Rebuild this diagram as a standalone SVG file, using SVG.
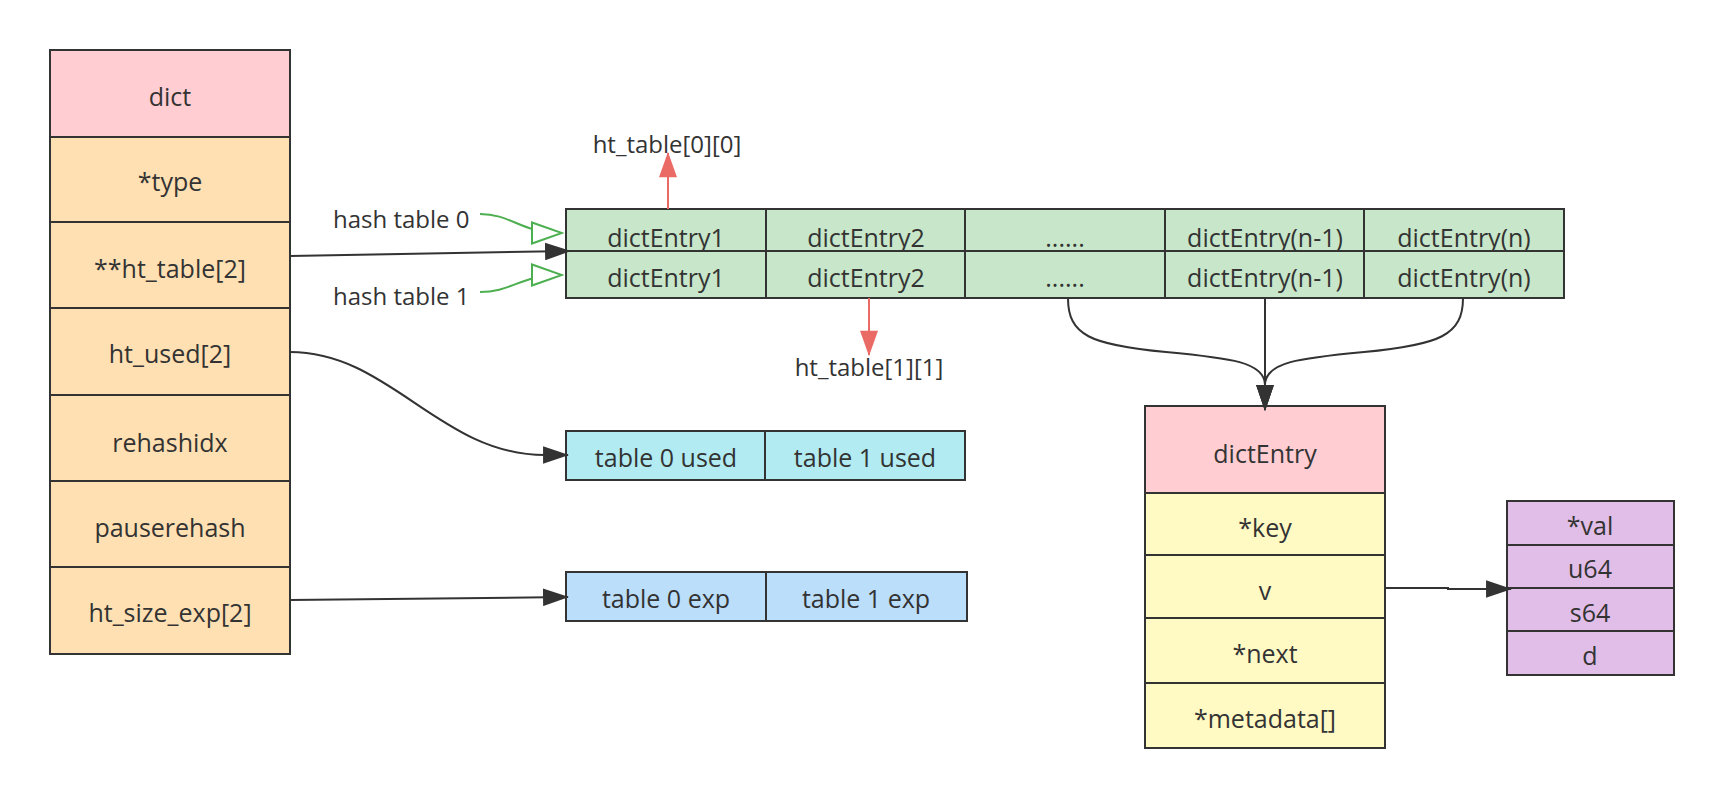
<svg xmlns="http://www.w3.org/2000/svg" width="1725" height="798" viewBox="0 0 1725 798">
<style>
  text { font-family: "Open Sans", "Noto Sans", sans-serif; font-size: 25px; fill: #333; text-anchor: middle; }
  .lbl { font-size: 24px; }
  .box { stroke: #333; stroke-width: 2; }
  .pink { fill: #ffcdd2; }
  .peach { fill: #ffe0b2; }
  .green { fill: #c8e6c9; }
  .cyan { fill: #b2ebf2; }
  .blue { fill: #bbdefb; }
  .yellow { fill: #fff9c4; }
  .purple { fill: #e1bee7; }
  .conn { fill: none; stroke: #333; stroke-width: 2; }
  .red { fill: none; stroke: #ea6b66; stroke-width: 2; }
  .grn { fill: none; stroke: #4caf50; stroke-width: 2; }
</style>
<defs>
  <marker id="ab" markerUnits="userSpaceOnUse" markerWidth="26" markerHeight="18" viewBox="0 0 25 17" refX="24" refY="8.5" orient="auto">
    <path d="M0,0 L25,8.5 L0,17 z" fill="#333"/>
  </marker>
  <marker id="ar" markerUnits="userSpaceOnUse" markerWidth="26" markerHeight="18" viewBox="0 0 24 17" refX="23" refY="8.5" orient="auto">
    <path d="M0,0 L24,8.5 L0,17 z" fill="#ea6b66"/>
  </marker>
  <marker id="ag" markerUnits="userSpaceOnUse" markerWidth="34" markerHeight="26" viewBox="-2 -2 34 25" refX="30" refY="10.5" orient="auto">
    <path d="M0,0 L30,10.5 L0,21 z" fill="#fff" stroke="#4caf50" stroke-width="2"/>
  </marker>
</defs>
<rect width="1725" height="798" fill="#fff"/>

<g id="dict">
  <rect class="box pink" x="50" y="50" width="240" height="87"/>
  <rect class="box peach" x="50" y="137" width="240" height="85"/>
  <rect class="box peach" x="50" y="222" width="240" height="86"/>
  <rect class="box peach" x="50" y="308" width="240" height="87"/>
  <rect class="box peach" x="50" y="395" width="240" height="86"/>
  <rect class="box peach" x="50" y="481" width="240" height="86"/>
  <rect class="box peach" x="50" y="567" width="240" height="87"/>
  <text x="170" y="106">dict</text>
  <text x="170" y="191">*type</text>
  <text x="170" y="278">**ht_table[2]</text>
  <text x="170" y="363">ht_used[2]</text>
  <text x="170" y="452">rehashidx</text>
  <text x="170" y="537">pauserehash</text>
  <text x="170" y="622">ht_size_exp[2]</text>
</g>

<g id="ht_table">
  <rect class="box green" x="566" y="209" width="200" height="42"/>
  <rect class="box green" x="766" y="209" width="199" height="42"/>
  <rect class="box green" x="965" y="209" width="200" height="42"/>
  <rect class="box green" x="1165" y="209" width="199" height="42"/>
  <rect class="box green" x="1364" y="209" width="200" height="42"/>
  <text x="666" y="247">dictEntry1</text>
  <text x="866" y="247">dictEntry2</text>
  <text x="1065" y="247">......</text>
  <text x="1265" y="247">dictEntry(n-1)</text>
  <text x="1464" y="247">dictEntry(n)</text>
  <rect class="box green" x="566" y="251" width="200" height="47"/>
  <rect class="box green" x="766" y="251" width="199" height="47"/>
  <rect class="box green" x="965" y="251" width="200" height="47"/>
  <rect class="box green" x="1165" y="251" width="199" height="47"/>
  <rect class="box green" x="1364" y="251" width="200" height="47"/>
  <text x="666" y="287">dictEntry1</text>
  <text x="866" y="287">dictEntry2</text>
  <text x="1065" y="287">......</text>
  <text x="1265" y="287">dictEntry(n-1)</text>
  <text x="1464" y="287">dictEntry(n)</text>
</g>

<g id="labels">
  <text class="lbl" x="333" y="228" style="text-anchor:start">hash table 0</text>
  <text class="lbl" x="333" y="305" style="text-anchor:start">hash table 1</text>
  <text class="lbl" x="667" y="153">ht_table[0][0]</text>
  <text class="lbl" x="869" y="376">ht_table[1][1]</text>
</g>

<g id="ht_used">
  <rect class="box cyan" x="566" y="431" width="199" height="49"/>
  <rect class="box cyan" x="765" y="431" width="200" height="49"/>
  <text x="666" y="467">table 0 used</text>
  <text x="865" y="467">table 1 used</text>
</g>

<g id="ht_size_exp">
  <rect class="box blue" x="566" y="572" width="200" height="49"/>
  <rect class="box blue" x="766" y="572" width="201" height="49"/>
  <text x="666" y="608">table 0 exp</text>
  <text x="866" y="608">table 1 exp</text>
</g>

<g id="dictEntry">
  <rect class="box pink" x="1145" y="406" width="240" height="87"/>
  <rect class="box yellow" x="1145" y="493" width="240" height="62"/>
  <rect class="box yellow" x="1145" y="555" width="240" height="63"/>
  <rect class="box yellow" x="1145" y="618" width="240" height="65"/>
  <rect class="box yellow" x="1145" y="683" width="240" height="65"/>
  <text x="1265" y="463">dictEntry</text>
  <text x="1265" y="537">*key</text>
  <text x="1265" y="600">v</text>
  <text x="1265" y="663">*next</text>
  <text x="1265" y="728">*metadata[]</text>
</g>

<g id="v_union">
  <rect class="box purple" x="1507" y="501" width="167" height="44"/>
  <rect class="box purple" x="1507" y="545" width="167" height="43"/>
  <rect class="box purple" x="1507" y="588" width="167" height="43"/>
  <rect class="box purple" x="1507" y="631" width="167" height="44"/>
  <text x="1590" y="535">*val</text>
  <text x="1590" y="578">u64</text>
  <text x="1590" y="622">s64</text>
  <text x="1590" y="665">d</text>
</g>

<g id="connectors">
  <path class="conn" d="M290,256 L570,251" marker-end="url(#ab)"/>
  <path class="grn" d="M480,214 C512,214 520,233 562,233" marker-end="url(#ag)"/>
  <path class="grn" d="M480,292 C512,292 520,275 562,275" marker-end="url(#ag)"/>
  <path class="red" d="M668,209 L668,153" marker-end="url(#ar)"/>
  <path class="red" d="M869,298 L869,355" marker-end="url(#ar)"/>
  <path class="conn" d="M290,352 C390,352 440,455 545,455 L568,455" marker-end="url(#ab)"/>
  <path class="conn" d="M290,600 L568,597" marker-end="url(#ab)"/>
  <path class="conn" d="M1068,298 C1068,335 1090,345 1166,352 C1230,358 1265,362 1265,385 L1265,410" marker-end="url(#ab)"/>
  <path class="conn" d="M1265,298 L1265,410" marker-end="url(#ab)"/>
  <path class="conn" d="M1463,298 C1463,335 1440,345 1364,352 C1300,358 1265,362 1265,385 L1265,410" marker-end="url(#ab)"/>
  <path class="conn" d="M1385,588 L1448,588 L1448,589 L1511,589" marker-end="url(#ab)"/>
</g>
</svg>
